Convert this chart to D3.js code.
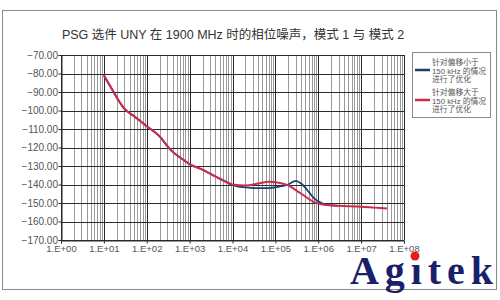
<!DOCTYPE html>
<html>
<head>
<meta charset="utf-8">
<script src="https://cdn.jsdelivr.net/npm/d3@7"></script>
<style>
  body { margin: 0; background: #fff; }
  svg text { font-family: "Liberation Sans", "Noto Sans CJK SC", sans-serif; }
</style>
</head>
<body>
<svg id="chart" width="500" height="300"></svg>
<script>
// offset frequency (Hz) and phase noise (dBc/Hz)
var redFreq  = [10, 15, 20, 30, 50, 100, 200, 350, 700, 1000, 2000, 3500, 7000, 10000, 20000, 40000, 70000, 120000, 200000, 300000, 500000, 800000, 1.5e6, 3e6, 1e7, 2e7, 4e7];
var redNoise = [-81, -88, -93, -99, -103, -108.5, -114, -121, -126.5, -129, -132, -135, -138.5, -140, -140.5, -139.5, -138.5, -139, -140.5, -143, -146.5, -149.5, -151, -151.5, -152, -152.5, -153];

var blueFreq  = [10, 15, 20, 30, 50, 100, 200, 350, 700, 1000, 2000, 3500, 7000, 10000, 20000, 50000, 100000, 200000, 300000, 400000, 600000, 800000, 1.2e6, 1.5e6, 3e6];
var blueNoise = [-81, -88, -93, -99, -103, -108.5, -114, -121, -126.5, -129, -132, -135, -138.5, -140.3, -141.5, -142, -141.5, -140, -138, -139.5, -144, -147.5, -150, -151, -151.5];

var yTicks = [-70, -80, -90, -100, -110, -120, -130, -140, -150, -160, -170];
var xTickLabels = ["1.E+00", "1.E+01", "1.E+02", "1.E+03", "1.E+04", "1.E+05", "1.E+06", "1.E+07", "1.E+08"];

var titleText = "PSG 选件 UNY 在 1900 MHz 时的相位噪声，模式 1 与 模式 2";
var legendBlue = ["针对偏移小于", "150 kHz 的情况", "进行了优化"];
var legendRed  = ["针对偏移大于", "150 kHz 的情况", "进行了优化"];

var svg = d3.select("#chart");

// outer frame
svg.append("rect")
    .attr("x", 2.5).attr("y", 10.5)
    .attr("width", 494).attr("height", 279)
    .attr("fill", "none").attr("stroke", "#8a8a8a");

svg.append("text")
    .attr("x", 233).attr("y", 38.5)
    .attr("text-anchor", "middle")
    .attr("font-size", 12.5)
    .attr("fill", "#333")
    .text(titleText);

var x = d3.scaleLog().domain([1, 1e8]).range([61, 404]);
var y = d3.scaleLinear().domain([-170, -70]).range([240, 55]);

// vertical grid: minor lines first, decade lines on top
var minors = [];
for (var e = 0; e < 8; e++) {
    for (var m = 2; m <= 9; m++) minors.push(m * Math.pow(10, e));
}
var decades = xTickLabels.map(function(d, i) { return Math.pow(10, i); });

var grid = svg.append("g");
grid.selectAll(".minor").data(minors).enter().append("line")
    .attr("x1", function(d) { return Math.round(x(d)) + 0.5; })
    .attr("x2", function(d) { return Math.round(x(d)) + 0.5; })
    .attr("y1", y(-70)).attr("y2", y(-170))
    .attr("stroke", "#9a9a9a").attr("stroke-width", 1);

grid.selectAll(".hline").data(yTicks).enter().append("line")
    .attr("x1", x(1)).attr("x2", x(1e8))
    .attr("y1", function(d) { return Math.round(y(d)) + 0.5; })
    .attr("y2", function(d) { return Math.round(y(d)) + 0.5; })
    .attr("stroke", "#2a2a2a").attr("stroke-width", 1);

grid.selectAll(".major").data(decades).enter().append("line")
    .attr("x1", function(d) { return Math.round(x(d)) + 0.5; })
    .attr("x2", function(d) { return Math.round(x(d)) + 0.5; })
    .attr("y1", y(-70)).attr("y2", y(-170))
    .attr("stroke", "#2a2a2a").attr("stroke-width", 1);

// axes
var yAxis = d3.axisLeft(y)
    .tickValues(yTicks)
    .tickSize(3)
    .tickFormat(d3.format(".2f"));
var gy = svg.append("g")
    .attr("transform", "translate(" + (Math.round(x(1)) + 0.5) + ",0)")
    .call(yAxis);

var xAxis = d3.axisBottom(x)
    .tickValues(decades)
    .tickSize(3)
    .tickFormat(function(d, i) { return xTickLabels[i]; });
var gx = svg.append("g")
    .attr("transform", "translate(0," + (Math.round(y(-170)) + 0.5) + ")")
    .call(xAxis);

[gx, gy].forEach(function(g) {
    g.select(".domain").attr("stroke", "#2a2a2a");
    g.selectAll(".tick line").attr("stroke", "#2a2a2a");
    g.selectAll(".tick text")
        .attr("font-family", "Liberation Sans, sans-serif")
        .attr("font-size", 9.5)
        .attr("fill", "#555");
});
gy.selectAll(".tick text").attr("x", -3.5).attr("font-size", 10);
gx.selectAll(".tick text").attr("y", 5);

// curves
var line = d3.line()
    .x(function(d) { return x(d[0]); })
    .y(function(d) { return y(d[1]); })
    .curve(d3.curveMonotoneX);

var blueData = d3.zip(blueFreq, blueNoise);
var redData = d3.zip(redFreq, redNoise);

svg.append("path")
    .datum(blueData)
    .attr("d", line)
    .attr("fill", "none")
    .attr("stroke", "#1c3f6b")
    .attr("stroke-width", 1.8);

svg.append("path")
    .datum(redData)
    .attr("d", line)
    .attr("fill", "none")
    .attr("stroke", "#cf2a4c")
    .attr("stroke-width", 2);

// legend
var legend = svg.append("g");
legend.append("rect")
    .attr("x", 412.5).attr("y", 52.5)
    .attr("width", 78).attr("height", 65)
    .attr("fill", "#fff").attr("stroke", "#8a8a8a");

function legendItem(lines, color, top, lineY) {
    legend.append("line")
        .attr("x1", 415).attr("x2", 430)
        .attr("y1", lineY).attr("y2", lineY)
        .attr("stroke", color).attr("stroke-width", 2.5);
    legend.selectAll(null).data(lines).enter().append("text")
        .attr("x", 432)
        .attr("y", function(d, i) { return top + i * 8.7; })
        .attr("font-size", 7.8)
        .attr("fill", "#555")
        .text(function(d) { return d; });
}
legendItem(legendBlue, "#1c3f6b", 65, 70);
legendItem(legendRed, "#cf2a4c", 95, 100);

// logo
svg.append("text")
    .attr("x", 350).attr("y", 284)
    .attr("textLength", 143)
    .attr("lengthAdjust", "spacing")
    .attr("font-weight", "bold")
    .attr("font-size", 40)
    .attr("fill", "#1b1f6a")
    .style("font-family", "Liberation Serif, serif")
    .text("Agıtek");
svg.append("circle")
    .attr("cx", 415).attr("cy", 256).attr("r", 4.5)
    .attr("fill", "#e02020");
</script>
</body>
</html>
